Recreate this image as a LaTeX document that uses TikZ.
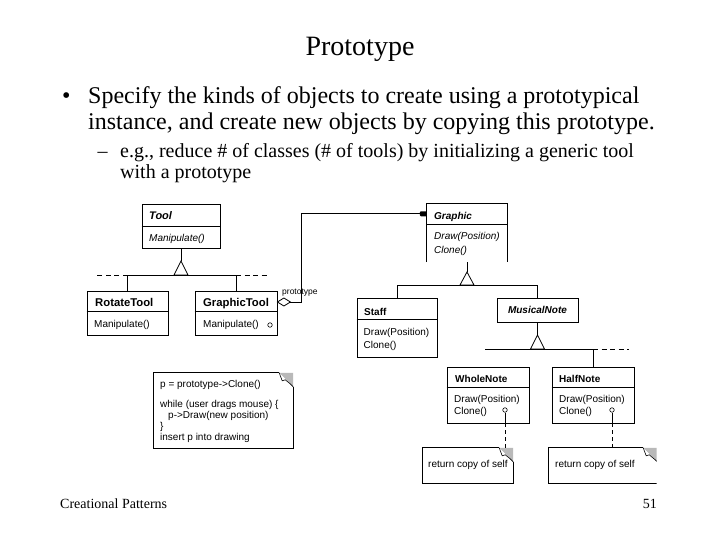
\documentclass[tikz,border=0pt]{standalone}
\usepackage{fontspec}
\setmainfont{Liberation Serif}
\newfontfamily\dsans{Liberation Sans}
\usetikzlibrary{calc}
\begin{document}
\begin{tikzpicture}[x=1pt,y=-1pt,
  ln/.style={line width=0.8pt},
  dsh/.style={line width=0.8pt, dash pattern=on 5pt off 3.5pt},
  vdsh/.style={line width=0.8pt, dash pattern=on 4pt off 3pt},
  umlbox/.style={draw, line width=0.8pt, inner sep=0pt, rectangle},
  slot/.style={inner sep=0pt, rectangle},
  dt/.style={inner sep=0pt, anchor=base west, font=\dsans\fontsize{10}{12}\selectfont},
  dti/.style={dt, font=\dsans\itshape\fontsize{10}{12}\selectfont},
  dtb/.style={dt, font=\dsans\bfseries\fontsize{10}{12}\selectfont},
  dtbl/.style={dt, font=\dsans\bfseries\fontsize{11.3}{13}\selectfont},
  dtbi/.style={dt, font=\dsans\bfseries\itshape\fontsize{10}{12}\selectfont},
  circ/.style={draw, circle, inner sep=0pt, minimum size=4.5pt, line width=0.6pt, fill=white},
  st/.style={inner sep=0pt, anchor=base west},
]
\fill[white] (0,0) rectangle (720,540);
\useasboundingbox (0,0) rectangle (720,540);

% ---------- slide text ----------
\node[inner sep=0pt, anchor=base, font=\fontsize{28}{32}\selectfont] (title) at (360,56) {Prototype};
\node[st, font=\fontsize{24}{28}\selectfont] (bul) at (62,104) {•};
\node[st, font=\fontsize{24}{28}\selectfont] (l1) at (88,104) {Specify the kinds of objects to create using a prototypical};
\node[st, font=\fontsize{24}{28}\selectfont] (l2) at (88,129.3) {instance, and create new objects by copying this prototype.};
\node[st, font=\fontsize{20}{24}\selectfont] (dash) at (97.5,157.3) {–};
\node[st, font=\fontsize{20}{24}\selectfont] (s1) at (120,157.3) {e.g., reduce \# of classes (\# of tools) by initializing a generic tool};
\node[st, font=\fontsize{20}{24}\selectfont] (s2) at (120,178.3) {with a prototype};
\node[st, font=\fontsize{14}{16}\selectfont] (foot) at (60,508) {Creational Patterns};
\node[inner sep=0pt, anchor=base east, font=\fontsize{14}{16}\selectfont] (page) at (657,508) {51};

% ---------- Tool hierarchy ----------
\node[umlbox, minimum width=78pt, minimum height=44pt] (tool) at (181,226) {};
\draw[ln] ([yshift=-23pt]tool.north west) -- ([yshift=-23pt]tool.north east);
\node[dt, font=\dsans\bfseries\itshape\fontsize{11}{13}\selectfont] (toolname) at (149,220) {Tool};
\node[dti] (toolm) at (149,241.5) {Manipulate()};

\node[umlbox, minimum width=81pt, minimum height=44pt] (rotate) at (127.5,313) {};
\draw[ln] ([yshift=-21pt]rotate.north west) -- ([yshift=-21pt]rotate.north east);
\node[dtbl] (rotname) at (95,306) {RotateTool};
\node[dt] (rotm) at (94,327) {Manipulate()};

\node[umlbox, minimum width=82pt, minimum height=44pt] (gtool) at (236,313) {};
\draw[ln] ([yshift=-21pt]gtool.north west) -- ([yshift=-21pt]gtool.north east);
\node[dtbl] (gtname) at (203,306) {GraphicTool};
\node[dt] (gtm) at (203,327) {Manipulate()};
\node[circ] (gtc) at (270,325) {};

\coordinate (toolapex) at (181,261);
\coordinate (toolbar) at (181,275);
\draw[ln] (tool.south) -- (toolapex);
\draw[ln, fill=white] (toolapex) -- ++(-7,14) -- ++(14,0) -- cycle;
\draw[ln] (rotate.north) -- (rotate.north |- toolbar) -- (gtool.north |- toolbar) -- (gtool.north);
\draw[dsh] (rotate.north |- toolbar) -- ++(-31,0);
\draw[dsh] (gtool.north |- toolbar) -- ++(32,0);

% ---------- Graphic hierarchy ----------
\node[slot, minimum width=80pt, minimum height=58pt] (graphic) at (467,233) {};
\draw[ln] (graphic.south west) |- (graphic.north east) -- (graphic.south east);
\draw[ln] ([yshift=-21pt]graphic.north west) -- ([yshift=-21pt]graphic.north east);
\node[dtbi] (grname) at (434,219) {Graphic};
\node[dti] (grm1) at (434,240) {Draw(Position)};
\node[dti] (grm2) at (434,253) {Clone()};

% prototype association
\coordinate (dia) at ([yshift=11pt]gtool.east);
\draw[ln, fill=white] (dia) -- ++(6.5,-4) -- ++(6.5,4) -- ++(-6.5,4) -- cycle;
\coordinate (diaR) at ([xshift=13pt]dia);
\coordinate (gin) at ([yshift=-10pt]graphic.north west);
\draw[ln] (diaR) -- ++(11,0) |- (gin);
\fill[rounded corners=1pt] ([xshift=-7pt,yshift=-2.5pt]gin) rectangle ([yshift=2.5pt]gin);
\node[dt, font=\dsans\fontsize{8.5}{10}\selectfont] (protolbl) at (282,294) {prototype};

\node[umlbox, minimum width=80pt, minimum height=59pt] (staff) at (397,327.5) {};
\draw[ln] ([yshift=-22pt]staff.north west) -- ([yshift=-22pt]staff.north east);
\node[dtb] (stname) at (364,315) {Staff};
\node[dt] (stm1) at (363.5,335) {Draw(Position)};
\node[dt] (stm2) at (363.5,348) {Clone()};

\node[umlbox, minimum width=81pt, minimum height=24pt, font=\dsans\bfseries\itshape\fontsize{10}{12}\selectfont] (mnote) at (537.5,310) {MusicalNote};

\coordinate (gapex) at (467,272);
\coordinate (gbar) at (467,285);
\draw[ln] (graphic.south) -- (gapex);
\draw[ln, fill=white] (gapex) -- ++(-7,13) -- ++(14,0) -- cycle;
\draw[ln] (staff.north) -- (staff.north |- gbar) -- (mnote.north |- gbar) -- (mnote.north);

% ---------- MusicalNote hierarchy ----------
\node[umlbox, minimum width=82pt, minimum height=56pt] (whole) at (488,395) {};
\draw[ln] ([yshift=-21pt]whole.north west) -- ([yshift=-21pt]whole.north east);
\node[dtb] (whname) at (455,382) {WholeNote};
\node[dt] (whm1) at (454,402) {Draw(Position)};
\node[dt] (whm2) at (454,414) {Clone()};

\node[umlbox, minimum width=82pt, minimum height=56pt] (half) at (593,395) {};
\draw[ln] ([yshift=-21pt]half.north west) -- ([yshift=-21pt]half.north east);
\node[dtb] (hfname) at (559,382) {HalfNote};
\node[dt] (hfm1) at (559,402) {Draw(Position)};
\node[dt] (hfm2) at (559,414) {Clone()};

\coordinate (mapex) at (537.5,335);
\coordinate (mbar) at (537.5,349);
\draw[ln] (mnote.south) -- (mapex);
\draw[ln, fill=white] (mapex) -- ++(-7,14) -- ++(14,0) -- cycle;
\draw[ln] (half.north) -- (half.north |- mbar) -- ++(-108,0);
\draw[dsh] (half.north |- mbar) -- ++(36,0);

% ---------- notes ----------
\node[slot, minimum width=139pt, minimum height=75pt] (code) at (223.5,410.5) {};
\node[slot, minimum width=90pt, minimum height=35pt] (note1) at (468,465.5) {};
\node[slot, minimum width=109pt, minimum height=35pt] (note2) at (603.5,465.5) {};

% code note
\draw[ln] ($(code.north east)+(-14,0)$) -- (code.north west) -- (code.south west) -- (code.south east) -- ($(code.north east)+(0,14)$);
\fill[gray!55] ($(code.north east)+(-14,0)$) -- (code.north east) -- ($(code.north east)+(0,14)$) -- cycle;
\draw[line width=0.6pt, fill=white] ($(code.north east)+(-14,0)$) -- ++(3,8) -- ++(3,-1) -- ($(code.north east)+(-3,11)$) -- ($(code.north east)+(0,14)$);
\node[dt] (c1) at (160,387) {p = prototype->Clone()};
\node[dt] (c2) at (160,407) {while (user drags mouse) \{};
\node[dt] (c3) at (168,418) {p->Draw(new position)};
\node[dt] (c4) at (160,429) {\}};
\node[dt] (c5) at (160,440) {insert p into drawing};

% note 1
\draw[ln] ($(note1.north east)+(-14,0)$) -- (note1.north west) -- (note1.south west) -- (note1.south east) -- ($(note1.north east)+(0,14)$);
\fill[gray!55] ($(note1.north east)+(-14,0)$) -- (note1.north east) -- ($(note1.north east)+(0,14)$) -- cycle;
\draw[line width=0.6pt, fill=white] ($(note1.north east)+(-14,0)$) -- ++(3,8) -- ++(3,-1) -- ($(note1.north east)+(-3,11)$) -- ($(note1.north east)+(0,14)$);
\node[dt] (n1t) at (428,467) {return copy of self};

% note 2 (cut off at the right edge)
\begin{scope}
\clip (0,0) rectangle (656.5,540);
\draw[ln] ($(note2.north east)+(-15,0)$) -- (note2.north west) -- (note2.south west) -- (note2.south east);
\fill[gray!55] ($(note2.north east)+(-15,0)$) -- (note2.north east) -- ($(note2.north east)+(0,15)$) -- cycle;
\draw[line width=0.6pt, fill=white] ($(note2.north east)+(-15,0)$) -- ++(3,8) -- ++(3,-1) -- ($(note2.north east)+(-3,12)$) -- ($(note2.north east)+(0,15)$);
\end{scope}
\node[dt] (n2t) at (555,467) {return copy of self};

% clone connectors
\node[circ] (wc) at (505,410) {};
\node[circ] (hc) at (612,410) {};
\draw[ln] (wc.south) -- (wc.south |- whole.south);
\draw[vdsh] (wc.south |- whole.south) -- (wc.south |- note1.north);
\draw[ln] (hc.south) -- (hc.south |- half.south);
\draw[vdsh] (hc.south |- half.south) -- (hc.south |- note2.north);
\end{tikzpicture}
\end{document}
